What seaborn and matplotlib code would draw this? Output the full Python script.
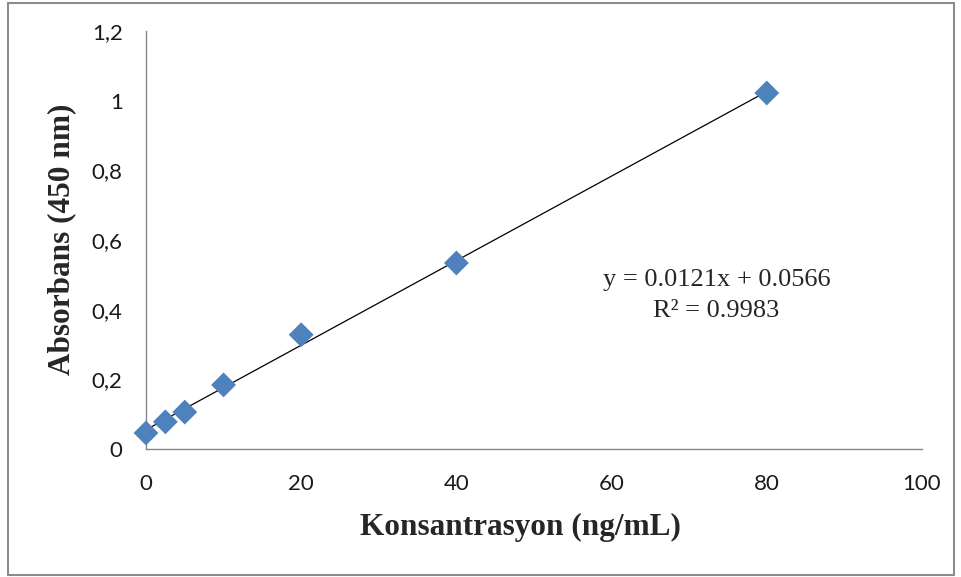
import numpy as np
import pandas as pd
import matplotlib
matplotlib.use("Agg")
import matplotlib.pyplot as plt
import seaborn as sns
from matplotlib.patches import Rectangle

# standard concentrations (ng/mL) and absorbance readings at 450 nm
konsantrasyon = [0, 2.5, 5, 10, 20, 40, 80]
absorbans = [0.046, 0.078, 0.106, 0.184, 0.328, 0.534, 1.022]

x_ticks = [0, 20, 40, 60, 80, 100]
y_ticks = [0, 0.2, 0.4, 0.6, 0.8, 1.0, 1.2]
y_tick_labels = ["0", "0,2", "0,4", "0,6", "0,8", "1", "1,2"]

equation_text = "y = 0.0121x + 0.0566"
r2_text = "R² = 0.9983"

df = pd.DataFrame({"x": konsantrasyon, "y": absorbans})

sns.set_style("white")
plt.rcParams["font.family"] = ["Lato", "DejaVu Sans"]

fig = plt.figure(figsize=(9.61, 5.77), dpi=100)
ax = fig.add_axes([0.1519, 0.2218, 0.8075, 0.7245])

# linear trendline through the standards
sns.regplot(data=df, x="x", y="y", scatter=False, ci=None, ax=ax,
            line_kws=dict(color="black", lw=0.9))
sns.scatterplot(data=df, x="x", y="y", marker="D", s=160, color="#4F81BD",
                edgecolor="none", ax=ax, zorder=3, clip_on=False)

ax.set_xlim(0, 100)
ax.set_ylim(0, 1.2)
ax.set_xticks(x_ticks)
ax.set_yticks(y_ticks)
ax.set_yticklabels(y_tick_labels)
ax.tick_params(axis="both", direction="out", length=5.8, width=1, color="#868686",
               labelsize=16, labelcolor="#1a1a1a")
ax.tick_params(axis="y", pad=11)
ax.tick_params(axis="x", pad=12)

for side in ["top", "right"]:
    ax.spines[side].set_visible(False)
for side in ["left", "bottom"]:
    ax.spines[side].set_color("#868686")
    ax.spines[side].set_linewidth(1)

ax.set_xlabel("Konsantrasyon (ng/mL)", family="Liberation Serif", fontweight="bold",
              fontsize=22.5, va="center")
ax.set_ylabel("Absorbans (450 nm)", family="Liberation Serif", fontweight="bold",
              fontsize=22.5, va="center")
ax.xaxis.set_label_coords(0.483, -0.187)
ax.yaxis.set_label_coords(-0.108, 0.501)

ax.text(73.5, 0.486, equation_text, family="Liberation Serif", fontsize=19,
        ha="center", va="center")
ax.text(73.5, 0.397, r2_text, family="Liberation Serif", fontsize=19,
        ha="center", va="center")

# outer chart frame
fig.patches.append(Rectangle((8 / 961, 2 / 577), 946 / 961, 572 / 577,
                             transform=fig.transFigure, fill=False,
                             edgecolor="#8c8c8c", lw=1.5))

fig.savefig("out.png", dpi=100)
